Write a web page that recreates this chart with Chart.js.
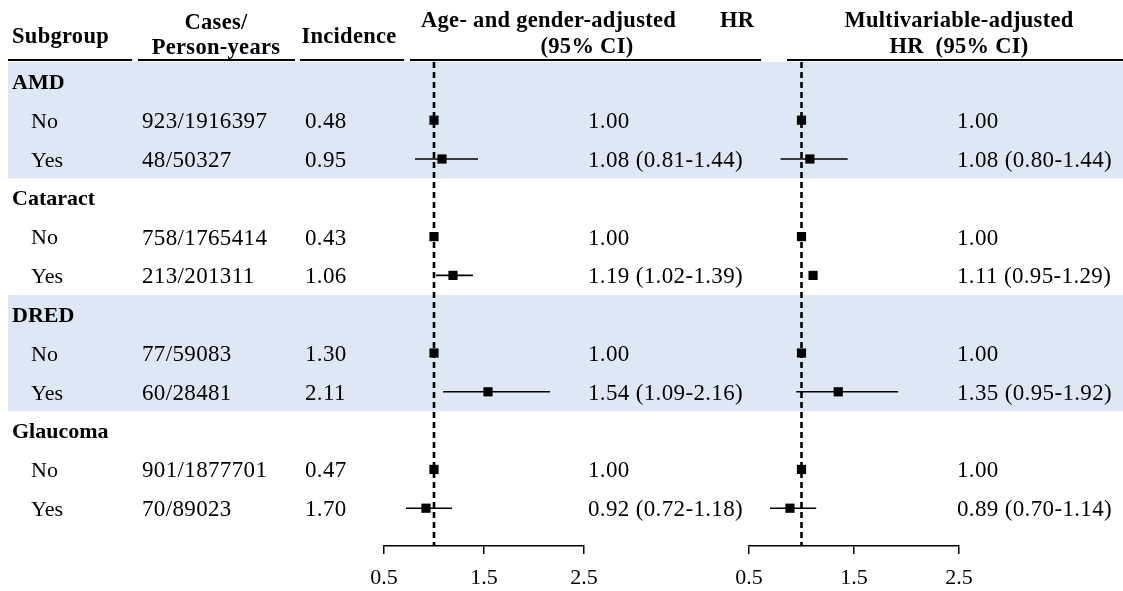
<!DOCTYPE html>
<html>
<head>
<meta charset="utf-8">
<script src="https://cdn.jsdelivr.net/npm/chart.js@4.4.1/dist/chart.umd.min.js"></script>
<style>
  html, body { margin: 0; padding: 0; background: #fff; }
  #wrap { position: relative; width: 1123px; height: 591px; overflow: hidden; background: #fff; }
  canvas { position: absolute; left: 0; top: 0; }
</style>
</head>
<body>
<div id="wrap">
  <canvas id="cA" width="1123" height="591"></canvas>
  <canvas id="cB" width="1123" height="591"></canvas>
</div>
<script>
// ---- data ----
const groups = ['AMD', 'Cataract', 'DRED', 'Glaucoma'];
const levels = ['No', 'Yes'];
const cases = ['923/1916397', '48/50327', '758/1765414', '213/201311', '77/59083', '60/28481', '901/1877701', '70/89023'];
const incidence = ['0.48', '0.95', '0.43', '1.06', '1.30', '2.11', '0.47', '1.70'];
const hrAge = [1.00, 1.08, 1.00, 1.19, 1.00, 1.54, 1.00, 0.92];
const loAge = [null, 0.81, null, 1.02, null, 1.09, null, 0.72];
const hiAge = [null, 1.44, null, 1.39, null, 2.16, null, 1.18];
const hrMv = [1.00, 1.08, 1.00, 1.11, 1.00, 1.35, 1.00, 0.89];
const loMv = [null, 0.80, null, 0.95, null, 0.95, null, 0.70];
const hiMv = [null, 1.44, null, 1.29, null, 1.92, null, 1.14];
const ciLineShownMv = [false, true, false, false, false, true, false, true]; // cataract CI line absent in reference
const ciLineShownAge = [false, true, false, true, false, true, false, true];
const xTicks = [0.5, 1.5, 2.5];
const refValue = 1.0;
const shadedGroups = [0, 2];

// ---- helpers ----
const FONT = "'Liberation Serif', 'Times New Roman', serif";
const rowOf = (k) => 3 * Math.floor(k / 2) + 1 + (k % 2);
const fmt = (v) => v.toFixed(2);
const labelOf = (hr, lo, hi, k) => lo[k] == null ? fmt(hr[k]) : `${fmt(hr[k])} (${fmt(lo[k])}-${fmt(hi[k])})`;
const Y_MIN = -0.5, Y_MAX = 11.974;

function buildDatasets(hr, lo, hi, shown) {
  const ds = [];
  ds.push({
    type: 'scatter',
    data: hr.map((v, k) => ({ x: v, y: rowOf(k) })),
    pointStyle: 'rect', pointRadius: 6.5, pointHoverRadius: 6.5,
    backgroundColor: '#000', borderColor: '#000', borderWidth: 0, order: 0
  });
  hr.forEach((v, k) => {
    if (lo[k] == null || !shown[k]) return;
    ds.push({
      type: 'line',
      data: [{ x: lo[k], y: rowOf(k) }, { x: hi[k], y: rowOf(k) }],
      borderColor: '#000', borderWidth: 1.6, pointRadius: 0, pointHoverRadius: 0,
      fill: false, order: 1
    });
  });
  ds.push({
    type: 'line',
    data: [{ x: refValue, y: Y_MIN }, { x: refValue, y: Y_MAX }],
    borderColor: '#000', borderWidth: 2.6, borderDash: [6, 4],
    pointRadius: 0, pointHoverRadius: 0, fill: false, order: 2
  });
  return ds;
}

function scalesFor() {
  return {
    x: {
      type: 'linear', position: 'bottom', min: xTicks[0], max: xTicks[xTicks.length - 1],
      afterBuildTicks: (s) => { s.ticks = xTicks.map(v => ({ value: v })); },
      afterFit: (s) => { s.height = 45; },
      grid: { display: true, drawOnChartArea: false, drawTicks: true, tickLength: 8, color: '#000', lineWidth: 1.5 },
      border: { display: true, color: '#000', width: 1.5 },
      ticks: { color: '#000', font: { family: FONT, size: 22 }, padding: 11, callback: (v) => v.toFixed(1) }
    },
    y: { type: 'linear', display: false, reverse: true, min: Y_MIN, max: Y_MAX }
  };
}

function setSpacing(ctx, px) { if ('letterSpacing' in ctx) ctx.letterSpacing = px + 'px'; }

const textPlugin = {
  id: 'forestText',
  beforeDraw(chart) {
    const ctx = chart.ctx, y = chart.scales.y;
    ctx.save();
    ctx.fillStyle = '#dde8f4';
    shadedGroups.forEach(g => {
      const t = y.getPixelForValue(3 * g - 0.5), b = y.getPixelForValue(3 * g + 2.5);
      ctx.fillRect(8, t, 1123 - 8, b - t);
    });
    // header underlines
    ctx.fillStyle = '#000';
    [[8, 132], [138, 295], [300, 404], [410, 761], [787, 1123]].forEach(([a, b]) => ctx.fillRect(a, 59, b - a, 2));
    // headers
    ctx.font = `bold 22.5px ${FONT}`;
    setSpacing(ctx, 0.3);
    ctx.textBaseline = 'alphabetic';
    ctx.textAlign = 'left';
    ctx.fillText('Subgroup', 12, 43);
    ctx.textAlign = 'center';
    ctx.fillText('Cases/', 216, 29);
    ctx.fillText('Person-years', 216, 54);
    ctx.fillText('Incidence', 349, 43);
    ctx.textAlign = 'left';
    ctx.fillText('Age- and gender-adjusted', 421, 27);
    ctx.fillText('HR', 720, 27);
    ctx.textAlign = 'center';
    ctx.fillText('(95% CI)', 587, 53);
    ctx.fillText('Multivariable-adjusted', 959, 27);
    ctx.fillText('HR  (95% CI)', 959, 53);
    // body
    ctx.textBaseline = 'middle';
    ctx.textAlign = 'left';
    setSpacing(ctx, 0);
    groups.forEach((g, gi) => {
      ctx.font = `bold 22px ${FONT}`;
      ctx.fillText(g, 12, y.getPixelForValue(3 * gi) + 2);
    });
    cases.forEach((c, k) => {
      const py = y.getPixelForValue(rowOf(k)) + 2;
      ctx.font = `22px ${FONT}`;
      setSpacing(ctx, 0);
      ctx.fillText(levels[k % 2], 31, py);
      ctx.font = `23px ${FONT}`;
      setSpacing(ctx, 0.35);
      ctx.fillText(c, 142, py);
      ctx.fillText(incidence[k], 305, py);
      ctx.fillText(labelOf(hrAge, loAge, hiAge, k), 588, py);
      ctx.fillText(labelOf(hrMv, loMv, hiMv, k), 957, py);
    });
    ctx.restore();
  }
};

function makeChart(id, hr, lo, hi, shown, left, right, withText) {
  return new Chart(document.getElementById(id), {
    type: 'scatter',
    data: { datasets: buildDatasets(hr, lo, hi, shown) },
    options: {
      responsive: false, devicePixelRatio: 1, animation: false,
      layout: { padding: { left: left, right: 1123 - right, top: 62, bottom: 0 } },
      plugins: { legend: { display: false }, tooltip: { enabled: false } },
      scales: scalesFor(),
      events: []
    },
    plugins: withText ? [textPlugin] : []
  });
}

makeChart('cA', hrAge, loAge, hiAge, ciLineShownAge, 384, 584, true);
makeChart('cB', hrMv, loMv, hiMv, ciLineShownMv, 749, 959, false);
</script>
</body>
</html>
